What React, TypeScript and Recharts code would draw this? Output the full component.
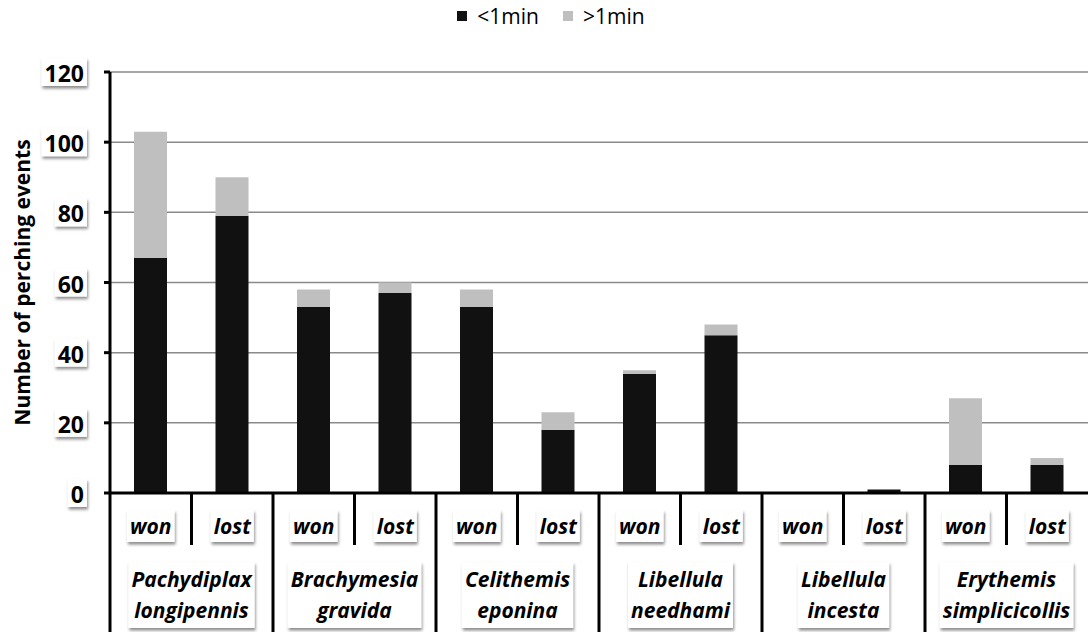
import React from 'react';
import { BarChart, Bar, XAxis, YAxis, CartesianGrid, Legend } from 'recharts';

const outcomes = ['won', 'lost', 'won', 'lost', 'won', 'lost', 'won', 'lost', 'won', 'lost', 'won', 'lost'];
const species = [
    ['Pachydiplax', 'longipennis'],
    ['Brachymesia', 'gravida'],
    ['Celithemis', 'eponina'],
    ['Libellula', 'needhami'],
    ['Libellula', 'incesta'],
    ['Erythemis', 'simplicicollis'],
];
const underOneMin = [67, 79, 53, 57, 53, 18, 34, 45, 0, 1, 8, 8];
const overOneMin = [36, 11, 5, 3, 5, 5, 1, 3, 0, 0, 19, 2];
const yTicks = [0, 20, 40, 60, 80, 100, 120];

const data = outcomes.map((o, i) => ({
    key: `${i}`,
    outcome: o,
    under: underOneMin[i],
    over: overOneMin[i],
}));

const W = 1090;
const H = 632;
const X_AXIS_H = 139;
const M = { top: 72, right: 2, bottom: 0, left: 0 };
const Y_AXIS_W = 110;
const PLOT_BOTTOM = H - X_AXIS_H;
const BAND = (W - M.right - Y_AXIS_W) / outcomes.length;
const FONT = '"Open Sans", "DejaVu Sans", sans-serif';

let ctx: CanvasRenderingContext2D | null = null;
const textWidth = (s: string, size: number, italic = false) => {
    if (!ctx) ctx = document.createElement('canvas').getContext('2d');
    if (!ctx) return s.length * size * 0.6;
    ctx.font = `${italic ? 'italic ' : ''}bold ${size}px ${FONT}`;
    return ctx.measureText(s).width;
};

const YTick = (props: any) => {
    const { x, y, payload } = props;
    const size = 23;
    const text = `${payload.value}`;
    const w = textWidth(text, size) + 6;
    return (
        <g>
            <rect x={x - w + 3} y={y - 14} width={w} height={28} fill="#fff" filter="url(#shadow)" />
            <text x={x} y={y + 1} textAnchor="end" dominantBaseline="central"
                fontFamily={FONT} fontWeight="bold" fontSize={size} fill="#000">{text}</text>
        </g>
    );
};

const XTick = (props: any) => {
    const { x, payload } = props;
    const i = payload.index as number;
    const y0 = PLOT_BOTTOM;
    const sepX = x - BAND / 2;
    const won = i % 2 === 0;
    const size = 21;
    const ow = textWidth(outcomes[i], size, true) + 6;
    const sp = won ? species[i / 2] : null;
    const sw = sp ? Math.max(textWidth(sp[0], size, true), textWidth(sp[1], size, true)) + 6 : 0;
    const cx = x + BAND / 2;
    return (
        <g>
            <line x1={sepX} x2={sepX} y1={y0} y2={won ? H : y0 + 52} stroke="#000" strokeWidth={3} />
            <rect x={x - ow / 2} y={y0 + 17} width={ow} height={32} fill="#fff" filter="url(#shadow)" />
            <text x={x} y={y0 + 33} textAnchor="middle" dominantBaseline="central"
                fontFamily={FONT} fontWeight="bold" fontStyle="italic" fontSize={size} fill="#000">{outcomes[i]}</text>
            {sp && (
                <g>
                    <rect x={cx - sw / 2} y={y0 + 69} width={sw} height={66} fill="#fff" filter="url(#shadow)" />
                    <text x={cx} y={y0 + 86} textAnchor="middle" dominantBaseline="central"
                        fontFamily={FONT} fontWeight="bold" fontStyle="italic" fontSize={size} fill="#000">{sp[0]}</text>
                    <text x={cx} y={y0 + 117} textAnchor="middle" dominantBaseline="central"
                        fontFamily={FONT} fontWeight="bold" fontStyle="italic" fontSize={size} fill="#000">{sp[1]}</text>
                </g>
            )}
        </g>
    );
};

const LegendContent = () => (
    <div style={{ display: 'flex', justifyContent: 'center', fontFamily: FONT, fontSize: 21, color: '#000', lineHeight: '24px' }}>
        <span style={{ display: 'flex', alignItems: 'center', marginRight: 24 }}>
            <span style={{ width: 10, height: 10, background: '#111', marginRight: 10, display: 'inline-block' }} />
            {'<1min'}
        </span>
        <span style={{ display: 'flex', alignItems: 'center' }}>
            <span style={{ width: 10, height: 10, background: '#bfbfbf', marginRight: 10, display: 'inline-block' }} />
            {'>1min'}
        </span>
    </div>
);

const App: React.FC = () => (
    <div style={{ position: 'absolute', left: 0, top: 0 }}>
        <BarChart width={W} height={H} data={data} margin={M} barCategoryGap={0}>
            <defs>
                <filter id="shadow" x="-20%" y="-20%" width="150%" height="160%">
                    <feDropShadow dx={1} dy={2.5} stdDeviation={1.5} floodColor="#000" floodOpacity={0.45} />
                </filter>
            </defs>
            <Legend verticalAlign="middle" content={<LegendContent />}
                wrapperStyle={{ top: 4, left: 6, width: W }} />
            <CartesianGrid vertical={false} stroke="#8a8a8a" strokeWidth={1.5} />
            <XAxis dataKey="key" interval={0} height={X_AXIS_H} tickLine={false} tick={<XTick />}
                axisLine={{ stroke: '#000', strokeWidth: 3 }} />
            <YAxis width={Y_AXIS_W} domain={[0, 120]} ticks={yTicks} interval={0} tickSize={6} tickMargin={20}
                tick={<YTick />} tickLine={{ stroke: '#000', strokeWidth: 3 }}
                axisLine={{ stroke: '#000', strokeWidth: 3 }}
                label={({ viewBox }: any) => (
                    <text x={22} y={viewBox.y + viewBox.height / 2} transform={`rotate(-90, 22, ${viewBox.y + viewBox.height / 2})`}
                        textAnchor="middle" dominantBaseline="central" fontFamily={FONT} fontWeight="bold" fontSize={21}>
                        Number of perching events
                    </text>
                )} />
            <Bar dataKey="under" stackId="a" fill="#111111" barSize={33} isAnimationActive={false} />
            <Bar dataKey="over" stackId="a" fill="#bfbfbf" barSize={33} isAnimationActive={false} />
        </BarChart>
    </div>
);

export default App;
